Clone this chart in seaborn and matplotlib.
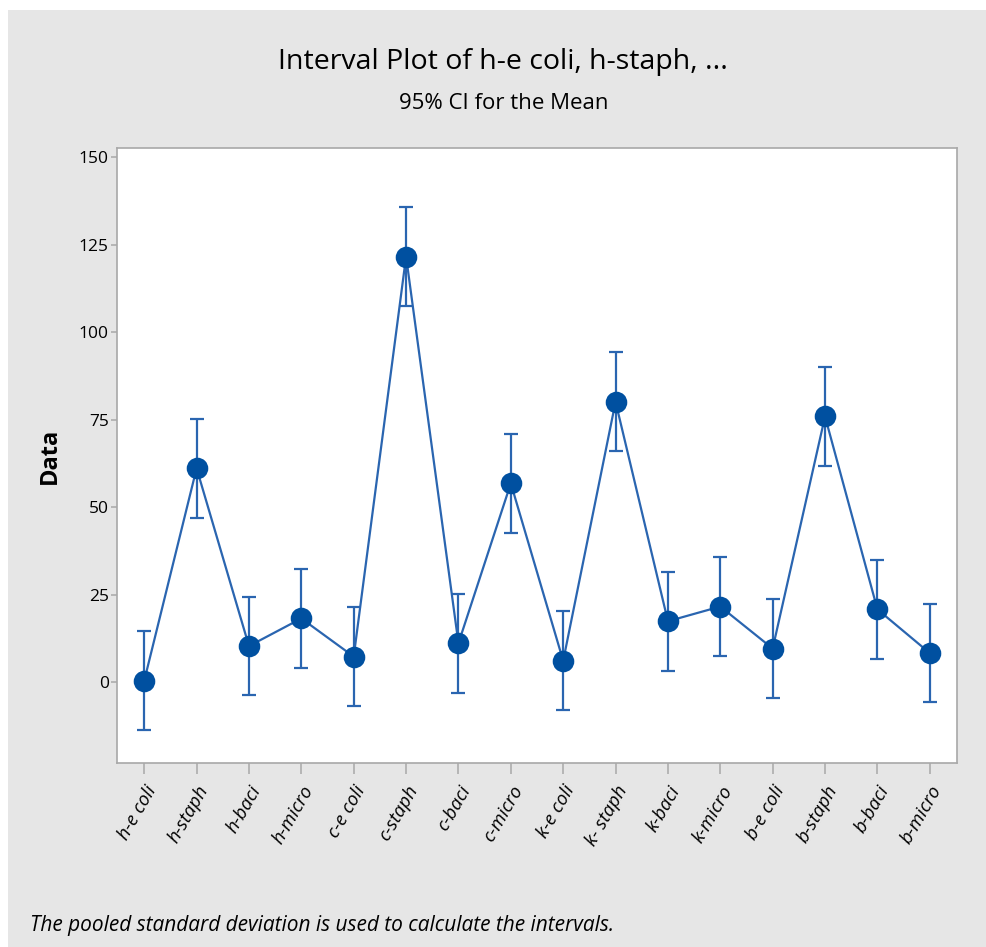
import matplotlib
matplotlib.use('Agg')
import matplotlib.pyplot as plt
import seaborn as sns
import pandas as pd

# --- Data ---
groups = ["h-e coli", "h-staph", "h-baci", "h-micro",
          "c-e coli", "c-staph", "c-baci", "c-micro",
          "k-e coli", "k- staph", "k-baci", "k-micro",
          "b-e coli", "b-staph", "b-baci", "b-micro"]
means = [0.5, 61.2, 10.4, 18.3, 7.4, 121.7, 11.2, 56.9,
         6.2, 80.2, 17.5, 21.7, 9.7, 76.0, 20.9, 8.4]
ci_half = 14.1  # pooled SD -> same half-width for every group
y_ticks = [0, 25, 50, 75, 100, 125, 150]

title = "Interval Plot of h-e coli, h-staph, ..."
subtitle = "95% CI for the Mean"
footnote = "The pooled standard deviation is used to calculate the intervals."

BLUE = "#0050a0"
LINE_BLUE = "#2a65b0"
BG = "#e6e6e6"
FRAME = "#a8a8a8"

sns.set_style("white")
plt.rcParams['font.family'] = ['Open Sans', 'DejaVu Sans']
plt.rcParams['text.color'] = 'black'

df = pd.DataFrame({'group': groups, 'mean': means})

fig = plt.figure(figsize=(9.87, 9.47), dpi=100, facecolor='white')
# grey panel behind the chart (the picture is a crop of a page)
fig.patches.append(plt.Rectangle((8 / 987, 0), 1 - 8 / 987, 1 - 10 / 947,
                                 transform=fig.transFigure, facecolor=BG,
                                 edgecolor='none', zorder=-10))

ax = fig.add_axes([117 / 987, 184 / 947, 840 / 987, 615 / 947])
ax.set_facecolor('white')

sns.pointplot(data=df, x='group', y='mean', errorbar=None, color=LINE_BLUE,
              markers='o', linestyles='-', ax=ax)
for line in ax.lines:
    line.set_linewidth(1.6)
    line.set_markersize(13.5)
    line.set_markerfacecolor(BLUE)
    line.set_markeredgecolor(BLUE)

ax.errorbar(range(len(groups)), df['mean'], yerr=ci_half, fmt='none',
            ecolor=LINE_BLUE, elinewidth=1.6, capsize=5, capthick=1.6, zorder=1)

ax.set_xlim(-0.52, len(groups) - 0.48)
ax.set_ylim(-23, 152.7)
ax.set_yticks(y_ticks)
ax.set_xlabel("")
ax.set_ylabel("Data", fontsize=17, fontweight='bold', labelpad=12, color='black')

for spine in ax.spines.values():
    spine.set_visible(True)
    spine.set_color(FRAME)
    spine.set_linewidth(1.2)

ax.tick_params(axis='both', which='both', direction='out', color=FRAME,
               labelcolor='black', labelsize=12.5, width=1.1,
               bottom=True, left=True)
ax.tick_params(axis='y', length=4.5, pad=1.5)
ax.tick_params(axis='x', length=8, pad=6)
ax.set_xticks(range(len(groups)))
ax.set_xticklabels(groups, rotation=60, ha='right', rotation_mode='anchor',
                   fontstyle='italic', fontsize=13.5)

fig.text(0.51, 1 - 62 / 947, title, ha='center', va='center', fontsize=20.5)
fig.text(0.51, 1 - 103 / 947, subtitle, ha='center', va='center', fontsize=16)
fig.text(30 / 987, 1 - 925 / 947, footnote, ha='left', va='center',
         fontsize=15, fontstyle='italic')

fig.savefig('out.png', dpi=100, facecolor=fig.get_facecolor())
